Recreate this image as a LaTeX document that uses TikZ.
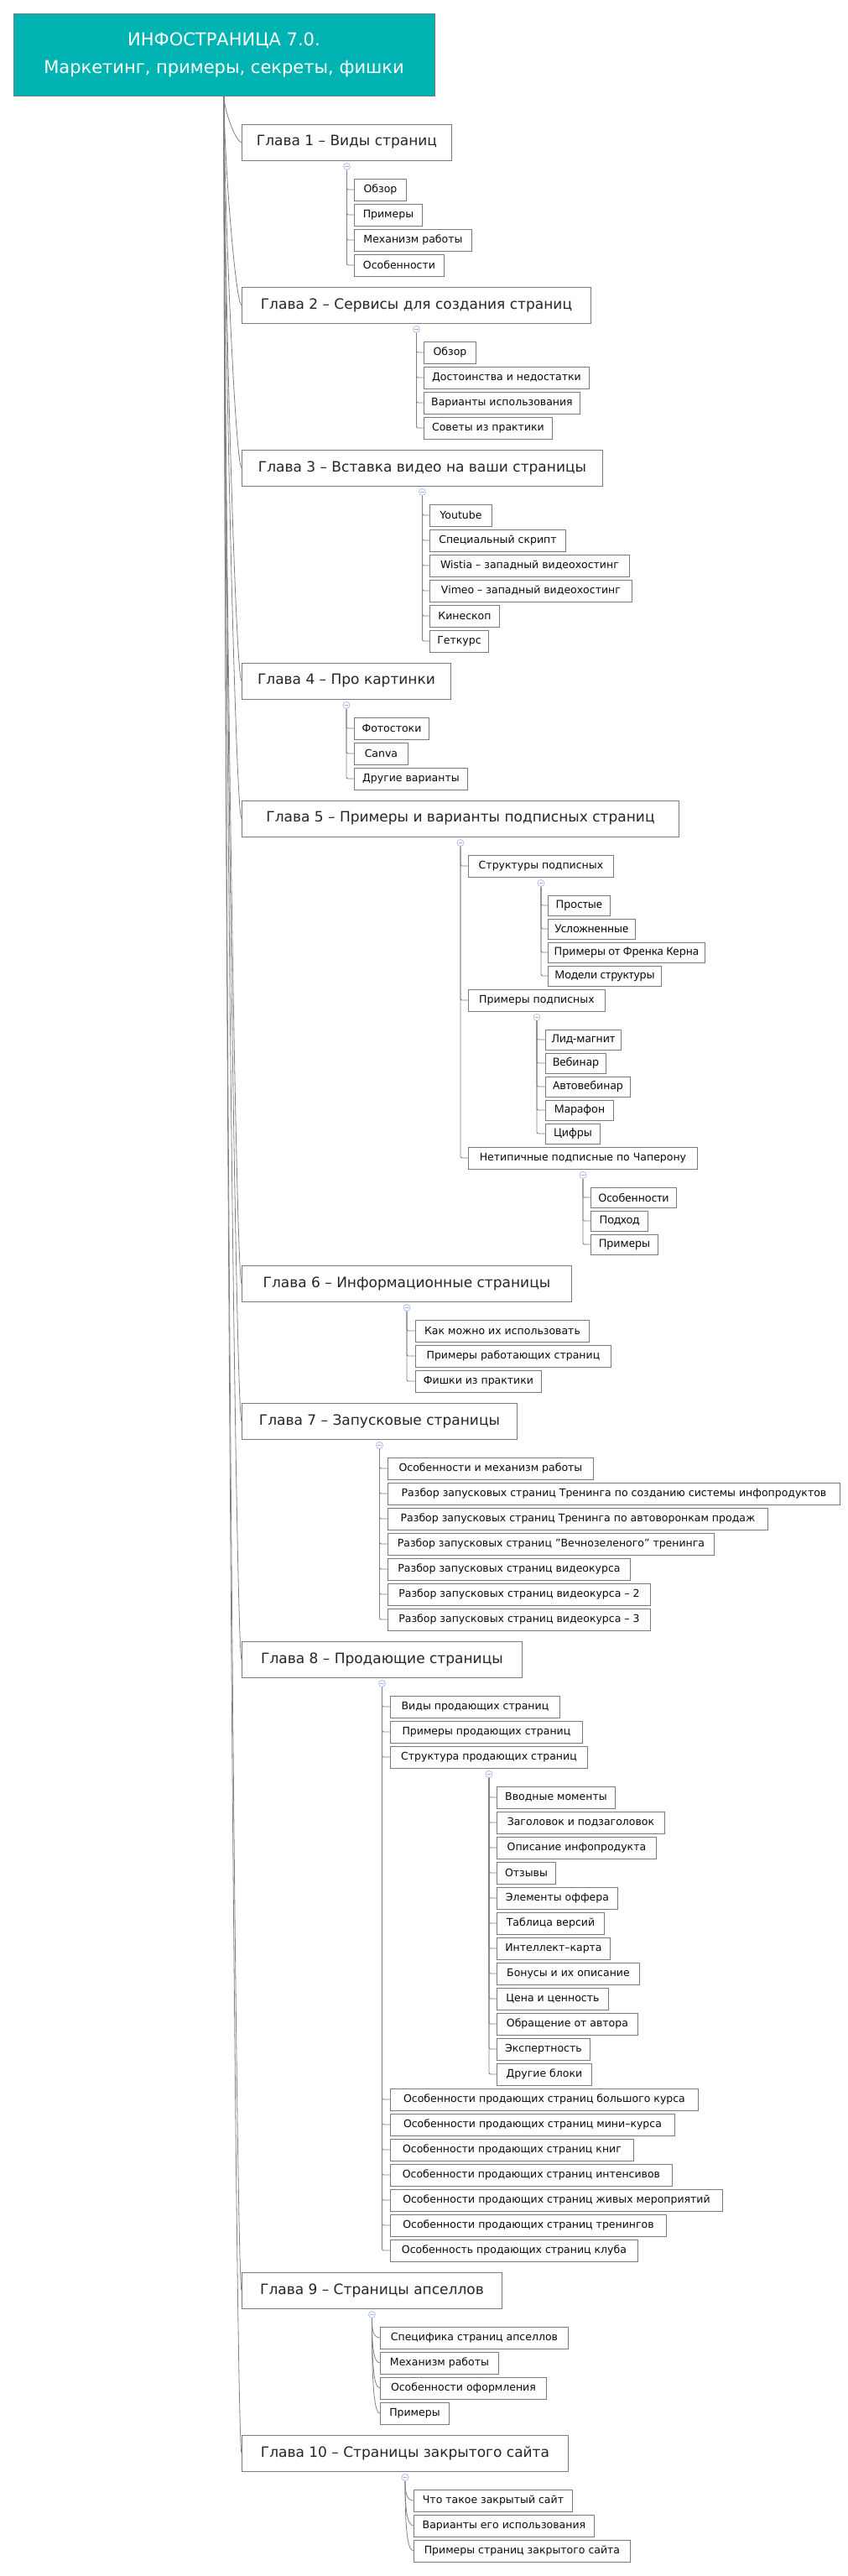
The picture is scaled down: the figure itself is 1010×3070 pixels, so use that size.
\documentclass[tikz,border=0pt]{standalone}
\usepackage{fontspec}
\setmainfont{DejaVu Sans}
\newfontfamily\segoe{Noto Sans}
\usetikzlibrary{calc}
\definecolor{teal0}{HTML}{00B3B3}
\definecolor{boxgray}{HTML}{7A7A7A}
\definecolor{linegray}{HTML}{808080}
\definecolor{chaptext}{HTML}{262626}
\definecolor{kidtext}{HTML}{0A0A0A}
\definecolor{iconblue}{HTML}{9DB2EA}
\begin{document}
\begin{tikzpicture}[x=1pt,y=-1pt,
  rootbox/.style={draw=boxgray,line width=0.8pt,fill=teal0,text=white,align=center,
    minimum width=502pt,minimum height=98pt,inner sep=0pt,font=\fontsize{21}{33}\selectfont},
  chap/.style={draw=boxgray,line width=0.9pt,fill=white,anchor=west,minimum height=43pt,
    inner xsep=8pt,inner ysep=0pt,text=chaptext,font=\fontsize{17}{20}\selectfont},
  kid/.style={draw=boxgray,line width=0.9pt,fill=white,anchor=west,minimum height=26pt,
    inner xsep=6pt,inner ysep=0pt,text=kidtext,font=\fontsize{12.5}{15}\selectfont},
  skid/.style={kid,minimum height=24pt,font=\segoe\fontsize{13.2}{15}\selectfont},
  icon/.style={circle,draw=iconblue,fill=white,line width=0.6pt,minimum size=8pt,inner sep=0pt,
    path picture={\draw[iconblue,line width=0.6pt] ([xshift=-2.2pt]path picture bounding box.center) -- ([xshift=2.2pt]path picture bounding box.center);}},
  branch/.style={draw=linegray,line width=0.9pt,rounded corners=2pt},
  trunk/.style={draw=linegray,line width=0.8pt},
  curvy/.style={draw=linegray,line width=0.8pt}
]
\useasboundingbox (0,0) rectangle (1010,3070);

% root
\node[rootbox] (root) at (267,65) {ИНФОСТРАНИЦА 7.0.\\Маркетинг, примеры, секреты, фишки};

% chapters
\node[chap,minimum width=250pt] (ch1) at (288,169.5) {Глава 1 – Виды страниц};
\node[chap,minimum width=416pt] (ch2) at (288,363.5) {Глава 2 – Сервисы для создания страниц};
\node[chap,minimum width=430pt] (ch3) at (288,557.5) {Глава 3 – Вставка видео на ваши страницы};
\node[chap,minimum width=249pt] (ch4) at (288,811.5) {Глава 4 – Про картинки};
\node[chap,minimum width=521pt] (ch5) at (288,975.5) {Глава 5 – Примеры и варианты подписных страниц};
\node[chap,minimum width=393pt] (ch6) at (288,1529.5) {Глава 6 – Информационные страницы};
\node[chap,minimum width=328pt] (ch7) at (288,1693.5) {Глава 7 – Запусковые страницы};
\node[chap,minimum width=334pt] (ch8) at (288,1977.5) {Глава 8 – Продающие страницы};
\node[chap,minimum width=310pt] (ch9) at (288,2729.5) {Глава 9 – Страницы апселлов};
\node[chap,minimum width=389pt] (ch10) at (288,2923.5) {Глава 10 – Страницы закрытого сайта};

% trunk connectors
\foreach \c in {ch1,ch2,ch3,ch4,ch5,ch6,ch7,ch8,ch9,ch10}
  \draw[trunk] (root.south) .. controls ($(root.south)!0.3!(root.south |- \c.west)$) and ($(\c.west)+(-7,0)$) .. (\c.west);

% chapter 1
\node[kid,minimum width=62pt] (c1a) at (422,226) {Обзор};
\node[kid,minimum width=81pt] (c1b) at (422,256) {Примеры};
\node[kid,minimum width=140pt] (c1c) at (422,286) {Механизм работы};
\node[kid,minimum width=107pt] (c1d) at (422,316) {Особенности};
% chapter 2
\node[kid,minimum width=62pt] (c2a) at (505,420) {Обзор};
\node[kid,minimum width=197pt] (c2b) at (505,450) {Достоинства и недостатки};
\node[kid,minimum width=186pt] (c2c) at (505,480) {Варианты использования};
\node[kid,minimum width=153pt] (c2d) at (505,510) {Советы из практики};
% chapter 3
\node[kid,minimum width=74pt] (c3a) at (512,614) {Youtube};
\node[kid,minimum width=162pt] (c3b) at (512,644) {Специальный скрипт};
\node[kid,minimum width=238pt] (c3c) at (512,674) {Wistia – западный видеохостинг};
\node[kid,minimum width=241pt] (c3d) at (512,704) {Vimeo – западный видеохостинг};
\node[kid,minimum width=83pt] (c3e) at (512,734) {Кинескоп};
\node[kid,minimum width=70pt] (c3f) at (512,764) {Геткурс};
% chapter 4
\node[kid,minimum width=89pt] (c4a) at (422,868) {Фотостоки};
\node[kid,minimum width=64pt] (c4b) at (422,898) {Canva};
\node[kid,minimum width=135pt] (c4c) at (422,928) {Другие варианты};
% chapter 5
\node[kid,minimum width=173pt] (c5a) at (558,1032) {Структуры подписных};
\node[kid,minimum width=163pt] (c5b) at (558,1192) {Примеры подписных};
\node[kid,minimum width=273pt] (c5c) at (558,1380) {Нетипичные подписные по Чаперону};
\node[skid,minimum width=74pt] (c5a1) at (653,1079) {Простые};
\node[skid,minimum width=104pt] (c5a2) at (653,1107) {Усложненные};
\node[skid,minimum width=187pt] (c5a3) at (653,1135) {Примеры от Френка Керна};
\node[skid,minimum width=135pt] (c5a4) at (653,1163) {Модели структуры};
\node[skid,minimum width=90pt] (c5b1) at (650,1239) {Лид-магнит};
\node[skid,minimum width=72pt] (c5b2) at (650,1267) {Вебинар};
\node[skid,minimum width=101pt] (c5b3) at (650,1295) {Автовебинар};
\node[skid,minimum width=81pt] (c5b4) at (650,1323) {Марафон};
\node[skid,minimum width=65pt] (c5b5) at (650,1351) {Цифры};
\node[skid,minimum width=102pt] (c5c1) at (704,1427) {Особенности};
\node[skid,minimum width=68pt] (c5c2) at (704,1455) {Подход};
\node[skid,minimum width=80pt] (c5c3) at (704,1483) {Примеры};
% chapter 6
\node[kid,minimum width=207pt] (c6a) at (495,1586) {Как можно их использовать};
\node[kid,minimum width=233pt] (c6b) at (495,1616) {Примеры работающих страниц};
\node[kid,minimum width=150pt] (c6c) at (495,1646) {Фишки из практики};
% chapter 7
\node[kid,minimum width=245pt] (c7a) at (462,1750) {Особенности и механизм работы};
\node[kid,minimum width=539pt] (c7b) at (462,1780) {Разбор запусковых страниц Тренинга по созданию системы инфопродуктов};
\node[kid,minimum width=453pt] (c7c) at (462,1810) {Разбор запусковых страниц Тренинга по автоворонкам продаж};
\node[kid,minimum width=389pt] (c7d) at (462,1840) {Разбор запусковых страниц "Вечнозеленого" тренинга};
\node[kid,minimum width=289pt] (c7e) at (462,1870) {Разбор запусковых страниц видеокурса};
\node[kid,minimum width=313pt] (c7f) at (462,1900) {Разбор запусковых страниц видеокурса – 2};
\node[kid,minimum width=313pt] (c7g) at (462,1930) {Разбор запусковых страниц видеокурса – 3};
% chapter 8
\node[kid,minimum width=202pt] (c8a) at (465,2034) {Виды продающих страниц};
\node[kid,minimum width=229pt] (c8b) at (465,2064) {Примеры продающих страниц};
\node[kid,minimum width=235pt] (c8c) at (465,2094) {Структура продающих страниц};
\node[kid,minimum width=141pt] (s1) at (592,2142) {Вводные моменты};
\node[kid,minimum width=200pt] (s2) at (592,2172) {Заголовок и подзаголовок};
\node[kid,minimum width=190pt] (s3) at (592,2202) {Описание инфопродукта};
\node[kid,minimum width=70pt] (s4) at (592,2232) {Отзывы};
\node[kid,minimum width=144pt] (s5) at (592,2262) {Элементы оффера};
\node[kid,minimum width=128pt] (s6) at (592,2292) {Таблица версий};
\node[kid,minimum width=135pt] (s7) at (592,2322) {Интеллект–карта};
\node[kid,minimum width=170pt] (s8) at (592,2352) {Бонусы и их описание};
\node[kid,minimum width=133pt] (s9) at (592,2382) {Цена и ценность};
\node[kid,minimum width=168pt] (s10) at (592,2412) {Обращение от автора};
\node[kid,minimum width=111pt] (s11) at (592,2442) {Экспертность};
\node[kid,minimum width=113pt] (s12) at (592,2472) {Другие блоки};
\node[kid,minimum width=367pt] (c8d) at (465,2502) {Особенности продающих страниц большого курса};
\node[kid,minimum width=339pt] (c8e) at (465,2532) {Особенности продающих страниц мини–курса};
\node[kid,minimum width=290pt] (c8f) at (465,2562) {Особенности продающих страниц книг};
\node[kid,minimum width=336pt] (c8g) at (465,2592) {Особенности продающих страниц интенсивов};
\node[kid,minimum width=396pt] (c8h) at (465,2622) {Особенности продающих страниц живых мероприятий};
\node[kid,minimum width=329pt] (c8i) at (465,2652) {Особенности продающих страниц тренингов};
\node[kid,minimum width=295pt] (c8j) at (465,2682) {Особенность продающих страниц клуба};
% chapter 9
\node[kid,minimum width=224pt] (c9a) at (453,2786) {Специфика страниц апселлов};
\node[kid,minimum width=141pt] (c9b) at (453,2816) {Механизм работы};
\node[kid,minimum width=198pt] (c9c) at (453,2846) {Особенности оформления};
\node[kid,minimum width=82pt] (c9d) at (453,2876) {Примеры};
% chapter 10
\node[kid,minimum width=189pt] (c10a) at (493,2980) {Что такое закрытый сайт};
\node[kid,minimum width=215pt] (c10b) at (493,3010) {Варианты его использования};
\node[kid,minimum width=258pt] (c10c) at (493,3040) {Примеры страниц закрытого сайта};

% collapse icons
\foreach \p/\i in {ch1/i1,ch2/i2,ch3/i3,ch4/i4,ch5/i5,ch6/i6,ch7/i7,ch8/i8,ch9/i9,ch10/i10,c5a/i5a,c5b/i5b,c5c/i5c,c8c/i8c}
  \node[icon] (\i) at ([yshift=-7pt]\p.south) {};

% branch connectors
\foreach \c in {c1a,c1b,c1c,c1d} \draw[branch] (i1) |- (\c);
\foreach \c in {c2a,c2b,c2c,c2d} \draw[branch] (i2) |- (\c);
\foreach \c in {c3a,c3b,c3c,c3d,c3e,c3f} \draw[branch] (i3) |- (\c);
\foreach \c in {c4a,c4b,c4c} \draw[branch] (i4) |- (\c);
\foreach \c in {c5a,c5b,c5c} \draw[branch] (i5) |- (\c);
\foreach \c in {c5a1,c5a2,c5a3,c5a4} \draw[branch] (i5a) |- (\c);
\foreach \c in {c5b1,c5b2,c5b3,c5b4,c5b5} \draw[branch] (i5b) |- (\c);
\foreach \c in {c5c1,c5c2,c5c3} \draw[branch] (i5c) |- (\c);
\foreach \c in {c6a,c6b,c6c} \draw[branch] (i6) |- (\c);
\foreach \c in {c7a,c7b,c7c,c7d,c7e,c7f,c7g} \draw[branch] (i7) |- (\c);
\foreach \c in {c8a,c8b,c8c,c8d,c8e,c8f,c8g,c8h,c8i,c8j} \draw[branch] (i8) |- (\c);
\foreach \c in {s1,s2,s3,s4,s5,s6,s7,s8,s9,s10,s11,s12} \draw[branch] (i8c) |- (\c);
\foreach \c in {c9a,c9b,c9c,c9d}
  \draw[curvy] (i9.south) .. controls ($(i9.south)!0.6!(i9.south |- \c.west)$) and ($(\c.west)+(-8,0)$) .. (\c.west);
\foreach \c in {c10a,c10b,c10c}
  \draw[curvy] (i10.south) .. controls ($(i10.south)!0.6!(i10.south |- \c.west)$) and ($(\c.west)+(-8,0)$) .. (\c.west);
\end{tikzpicture}
\end{document}
